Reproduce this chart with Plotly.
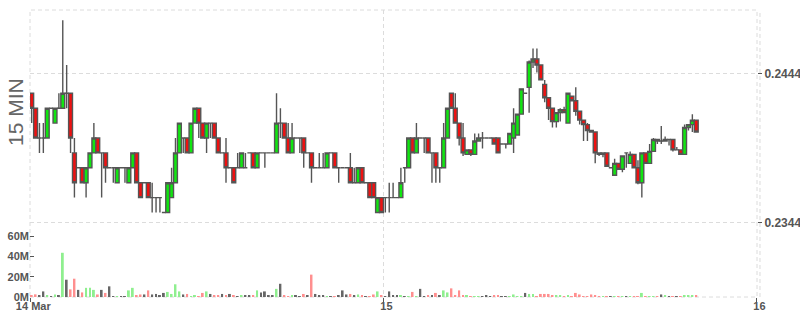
import plotly.graph_objects as go
import pandas as pd

opens = [
    .2431, .2421, .2401, .2401, .2401, .2421, .2411, .2421, .2421, .2431,
    .2431, .2391, .2381, .2381, .2371, .2381, .2391, .2401, .2391, .2391,
    .2381, .2381, .2371, .2381, .2381, .2371, .2381, .2391, .2371, .2371,
    .2371, .2361, .2361, .2361, .2351, .2351, .2361, .2371, .2391, .2401,
    .2401, .2391, .2411, .2421, .2411, .2401, .2411, .2411, .2401, .2391,
    .2391, .2381, .2381, .2381, .2381, .2381, .2391, .2391, .2381, .2391,
    .2391, .2391, .2391, .2391, .2411, .2411, .2401, .2391, .2401, .2401,
    .2401, .2391, .2391, .2381, .2381, .2381, .2381, .2391, .2391, .2381,
    .2381, .2381, .2381, .2371, .2371, .2381, .2371, .2371, .2371, .2351,
    .2361, .2361, .2361, .2361, .2361, .2361, .2381, .2381, .2401, .2391,
    .2401, .2401, .2401, .2391, .2391, .2381, .2381, .2401, .2431, .2421,
    .2411, .2401, .2390, .2393, .2390, .2399, .2401, .2401, .2401, .2401,
    .2401, .2397, .2397, .2397, .2401, .2403, .2417, .2431, .2435, .2452,
    .2454, .2450, .2437, .2428, .2421, .2412, .2418, .2420, .2411, .2429,
    .2426, .2419, .2413, .2410, .2406, .2405, .2391, .2390, .2391, .2381,
    .2376, .2384, .2380, .2391, .2384, .2390, .2381, .2371, .2391, .2384,
    .2392, .2400, .2399, .2399, .2400, .2400, .2393, .2393, .2390, .2408,
    .2410, .2413,
]
highs = [
    .2431, .2421, .2411, .2411, .2421, .2421, .2421, .2431, .2480, .2450,
    .2431, .2401, .2381, .2381, .2381, .2391, .2411, .2401, .2391, .2391,
    .2381, .2381, .2381, .2381, .2381, .2381, .2391, .2391, .2371, .2371,
    .2371, .2371, .2361, .2361, .2351, .2371, .2381, .2401, .2411, .2401,
    .2401, .2411, .2421, .2421, .2411, .2411, .2411, .2411, .2401, .2391,
    .2401, .2381, .2381, .2391, .2391, .2391, .2391, .2391, .2391, .2391,
    .2391, .2391, .2391, .2431, .2421, .2411, .2411, .2411, .2401, .2401,
    .2401, .2391, .2391, .2381, .2391, .2391, .2391, .2391, .2391, .2381,
    .2381, .2381, .2391, .2381, .2381, .2381, .2371, .2371, .2371, .2361,
    .2361, .2361, .2371, .2371, .2361, .2381, .2381, .2401, .2401, .2411,
    .2401, .2401, .2401, .2391, .2391, .2381, .2411, .2421, .2431, .2431,
    .2411, .2411, .2393, .2393, .2404, .2404, .2405, .2401, .2401, .2401,
    .2401, .2397, .2397, .2404, .2421, .2417, .2434, .2431, .2453, .2461,
    .2461, .2450, .2440, .2428, .2421, .2418, .2421, .2422, .2431, .2429,
    .2435, .2419, .2413, .2411, .2406, .2405, .2391, .2391, .2391, .2381,
    .2387, .2384, .2389, .2391, .2392, .2390, .2386, .2391, .2391, .2397,
    .2401, .2400, .2409, .2402, .2400, .2400, .2395, .2393, .2410, .2410,
    .2417, .2413,
]
lows = [
    .2411, .2401, .2391, .2391, .2401, .2421, .2411, .2421, .2421, .2421,
    .2391, .2361, .2381, .2371, .2361, .2381, .2391, .2391, .2361, .2371,
    .2381, .2371, .2371, .2381, .2371, .2371, .2381, .2371, .2361, .2371,
    .2361, .2351, .2351, .2351, .2351, .2351, .2361, .2371, .2391, .2391,
    .2391, .2391, .2411, .2401, .2401, .2391, .2401, .2401, .2391, .2391,
    .2371, .2381, .2371, .2381, .2381, .2381, .2391, .2381, .2381, .2391,
    .2381, .2391, .2391, .2391, .2401, .2401, .2391, .2391, .2401, .2391,
    .2381, .2391, .2371, .2381, .2381, .2381, .2381, .2391, .2381, .2371,
    .2381, .2381, .2371, .2371, .2371, .2371, .2371, .2361, .2361, .2351,
    .2351, .2351, .2351, .2361, .2361, .2361, .2371, .2381, .2391, .2391,
    .2401, .2391, .2391, .2371, .2371, .2371, .2381, .2401, .2421, .2411,
    .2396, .2389, .2390, .2389, .2390, .2399, .2394, .2401, .2401, .2397,
    .2391, .2397, .2394, .2397, .2391, .2403, .2417, .2431, .2418, .2448,
    .2445, .2440, .2425, .2413, .2408, .2408, .2412, .2418, .2411, .2426,
    .2416, .2410, .2399, .2399, .2405, .2384, .2389, .2388, .2382, .2381,
    .2376, .2380, .2378, .2381, .2384, .2381, .2370, .2361, .2384, .2384,
    .2392, .2397, .2397, .2399, .2396, .2392, .2393, .2390, .2390, .2406,
    .2405, .2405,
]
closes = [
    .2421, .2401, .2401, .2401, .2421, .2421, .2421, .2421, .2431, .2431,
    .2401, .2371, .2381, .2371, .2381, .2391, .2401, .2391, .2391, .2381,
    .2381, .2381, .2381, .2381, .2381, .2381, .2391, .2371, .2361, .2371,
    .2361, .2361, .2361, .2361, .2351, .2371, .2371, .2391, .2411, .2401,
    .2391, .2411, .2421, .2411, .2401, .2411, .2411, .2401, .2391, .2391,
    .2381, .2381, .2371, .2381, .2391, .2381, .2391, .2381, .2391, .2391,
    .2391, .2391, .2391, .2411, .2411, .2401, .2391, .2401, .2401, .2401,
    .2391, .2391, .2381, .2381, .2381, .2381, .2391, .2391, .2381, .2381,
    .2381, .2381, .2371, .2371, .2381, .2371, .2371, .2361, .2361, .2361,
    .2351, .2361, .2361, .2361, .2361, .2371, .2381, .2401, .2391, .2401,
    .2401, .2401, .2391, .2391, .2381, .2381, .2401, .2421, .2421, .2411,
    .2401, .2391, .2393, .2390, .2399, .2401, .2401, .2401, .2401, .2397,
    .2391, .2397, .2397, .2404, .2411, .2417, .2434, .2431, .2452, .2454,
    .2450, .2440, .2428, .2421, .2412, .2418, .2420, .2418, .2431, .2426,
    .2419, .2413, .2410, .2406, .2405, .2391, .2390, .2391, .2382, .2381,
    .2384, .2380, .2389, .2391, .2390, .2381, .2371, .2391, .2384, .2392,
    .2400, .2399, .2399, .2400, .2400, .2393, .2393, .2390, .2408, .2410,
    .2413, .2405,
]
volume_millions = [
    1, 2.6, 1.5, 5.5, 1.5, 0.3, 2.5, 1.5, 43.5, 17,
    7.5, 18, 7, 4.5, 9, 9, 7, 2.5, 7, 4,
    10.5, 0.6, 0.6, 0.6, 0.6, 6.5, 9, 1.5, 2.5, 2.5,
    6.5, 2.5, 3, 1.5, 4, 5, 3, 12.5, 5.5, 2.5,
    3, 0.5, 1.5, 0.5, 4, 5.5, 3, 1.5, 1.5, 3,
    1.5, 3, 1.5, 0.5, 1, 1, 1, 1, 6.5, 4.5,
    5.5, 1, 1, 8, 13, 1.5, 0.5, 1.5, 1.5, 0.5,
    3, 1.5, 22, 3, 2, 2, 0.5, 0.5, 0.5, 2,
    6.5, 2.5, 3, 1, 2.5, 1.5, 0.5, 0.5, 2.5, 5.5,
    1.5, 0.5, 5.5, 2, 1.5, 1.5, 0.7, 0.5, 5, 0.5,
    8, 0.5, 1.5, 1.5, 4, 1.5, 6.5, 4.5, 8.5, 1.5,
    6.5, 1.5, 1.5, 0.5, 0.5, 0.7, 0.5, 1.5, 0.5, 1,
    1, 0.7, 0.5, 0.5, 2.5, 0.7, 0.7, 4, 3, 3,
    0.5, 3, 3, 3, 1, 1.5, 1, 0.5, 1.5, 0.5,
    4, 2.5, 0.5, 0.5, 2.5, 1, 0.5, 0.5, 0.5, 0.3,
    0.5, 0.5, 0.5, 0.5, 0.5, 0.5, 0.7, 4, 0.5, 0.5,
    0.5, 0.5, 2.5, 1.5, 0.5, 0.5, 0.5, 0.5, 1.5, 1.5,
    1.5, 1.5,
]

price_tick_values = [0.2344, 0.2444]
price_tick_labels = ["0.2344", "0.2444"]
volume_tick_values = [0, 20e6, 40e6, 60e6]
volume_tick_labels = ["0M", "20M", "40M", "60M"]
x_tick_values = ["2024-03-14 01:17", "2024-03-15 00:00", "2024-03-16 00:00"]
x_tick_labels = ["14 Mar", "15", "16"]

n = len(opens)
assert len(highs) == n and len(lows) == n and len(closes) == n and len(volume_millions) == n
times = pd.date_range("2024-03-14 01:22:30", periods=n, freq="15min")

vol_colors = []
for o, c in zip(opens, closes):
    if c > o:
        vol_colors.append("#8fef8f")
    elif c < o:
        vol_colors.append("#ff8f8f")
    else:
        vol_colors.append("#666666")

GRID = "#dcdcdc"
DASH = "4px,3px"
tickfont = dict(family="Liberation Sans", size=11, color="#555555", weight="bold")
pricefont = dict(family="Liberation Sans", size=12, color="#555555", weight="bold")

fig = go.Figure()
fig.add_trace(go.Candlestick(
    x=times, open=opens, high=highs, low=lows, close=closes,
    increasing=dict(line=dict(color="#555555", width=1.4), fillcolor="#10e610"),
    decreasing=dict(line=dict(color="#555555", width=1.4), fillcolor="#ee1111"),
    whiskerwidth=0, yaxis="y", hoverinfo="skip",
))
fig.add_trace(go.Bar(
    x=times, y=[v * 1e6 for v in volume_millions], yaxis="y2",
    marker=dict(color=vol_colors, line=dict(width=0)),
    width=450000, hoverinfo="skip",
))

fig.update_layout(
    width=800, height=315,
    margin=dict(l=30, r=43, t=10, b=18),
    paper_bgcolor="white", plot_bgcolor="white",
    showlegend=False,
    boxgap=0, boxgroupgap=0,
    xaxis=dict(
        type="date",
        range=["2024-03-14 01:16", "2024-03-16 00:02"],
        tickvals=x_tick_values, ticktext=x_tick_labels,
        ticks="outside", ticklen=4, tickcolor="#555555",
        tickfont=tickfont, ticklabelshift=3, ticklabelstandoff=-5,
        showgrid=True, gridcolor=GRID, griddash=DASH,
        zeroline=False, showline=False,
        rangeslider=dict(visible=False), automargin=False,
    ),
    yaxis=dict(
        side="right",
        range=[0.22943, 0.24869],
        tickvals=price_tick_values, ticktext=price_tick_labels,
        ticks="outside", ticklen=4, tickcolor="#555555",
        tickfont=pricefont,
        showgrid=True, gridcolor=GRID, griddash=DASH,
        zeroline=False, showline=False, automargin=False,
    ),
    yaxis2=dict(
        overlaying="y", side="left",
        range=[0, 282.3e6],
        tickvals=volume_tick_values, ticktext=volume_tick_labels,
        ticks="inside", ticklen=4, tickcolor="#555555",
        tickfont=tickfont,
        showgrid=False, zeroline=False, showline=False, automargin=False,
    ),
    shapes=[
        dict(type="rect", xref="paper", yref="paper", x0=0, x1=1, y0=0, y1=1,
             line=dict(color=GRID, width=1, dash=DASH), layer="below"),
        dict(type="line", xref="paper", yref="paper", x0=1.0041, x1=1.0041, y0=0, y1=1,
             line=dict(color=GRID, width=1, dash=DASH), layer="below"),
    ],
    annotations=[
        dict(text="15 MIN", xref="paper", yref="paper", x=-0.0199, y=0.643,
             textangle=-90, showarrow=False, xanchor="center", yanchor="middle",
             font=dict(family="Liberation Sans", size=21, color="#666666")),
    ],
)

fig.write_html("out.html")
